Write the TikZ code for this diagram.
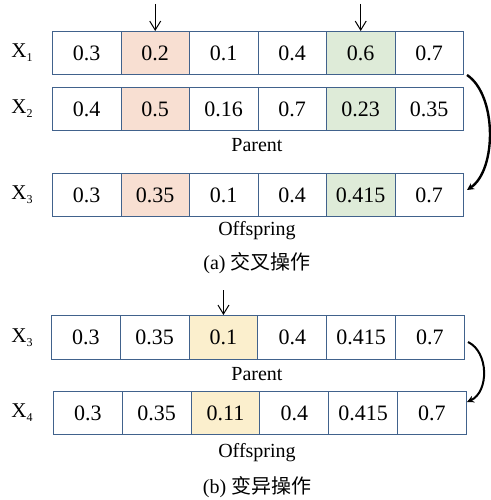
\documentclass[tikz,border=0pt]{standalone}
\usepackage{fontspec}
\setmainfont{Liberation Serif}
\newfontfamily\cjk{Noto Sans CJK SC}
\usetikzlibrary{arrows.meta}
\definecolor{bordc}{HTML}{41628C}
\definecolor{pinkc}{HTML}{F8DFD2}
\definecolor{greenc}{HTML}{DEEBD8}
\definecolor{yellowc}{HTML}{FBEFCD}
\newcommand{\xlab}[1]{X\raisebox{-4pt}{\fontsize{12}{12}\selectfont #1}}
\tikzset{
  cell/.style={draw=bordc, line width=0.9pt, minimum width=68.5pt, minimum height=43pt,
    inner sep=0pt, anchor=north west, font=\fontsize{22}{24}\selectfont},
  rowlab/.style={font=\fontsize{21}{24}\selectfont, inner sep=0pt},
  caplab/.style={font=\fontsize{20}{24}\selectfont, inner sep=0pt},
  downarr/.style={-{Straight Barb[length=9pt,width=11pt]}, line width=1pt},
  bendarr/.style={-{Stealth[length=7pt,width=7pt]}, line width=2.4pt}
}
\begin{document}
\begin{tikzpicture}[x=1pt,y=-1pt]
\useasboundingbox (0,0) rectangle (490,500);
% (a)
\foreach \v/\f [count=\i] in {0.3/white,0.2/pinkc,0.1/white,0.4/white,0.6/greenc,0.7/white}
  \node[cell, fill=\f] (a\i) at ({52+(\i-1)*68.5},31) {\v};
\foreach \v/\f [count=\i] in {0.4/white,0.5/pinkc,0.16/white,0.7/white,0.23/greenc,0.35/white}
  \node[cell, fill=\f] (b\i) at ({52+(\i-1)*68.5},87) {\v};
\foreach \v/\f [count=\i] in {0.3/white,0.35/pinkc,0.1/white,0.4/white,0.415/greenc,0.7/white}
  \node[cell, fill=\f] (c\i) at ({52+(\i-1)*68.5},173) {\v};
\node[rowlab] (lx1) at (22,53) {\xlab{1}};
\node[rowlab] (lx2) at (22,109) {\xlab{2}};
\node[rowlab] (lx3) at (22,195) {\xlab{3}};
\node[caplab] (par1) at (257,145) {Parent};
\node[caplab] (off1) at (257,231) {Offspring};
\node[caplab] (capa) at (257,263) {(a) {\cjk 交叉操作}};
\coordinate (t1) at (a2.north |- 0,4);
\coordinate (t2) at (a5.north |- 0,4);
\draw[downarr] (t1) -- (a2.north);
\draw[downarr] (t2) -- (a5.north);
\coordinate (s1) at (467,75);
\coordinate (e1) at (467,190);
\draw[bendarr] (s1) .. controls (497,95) and (497,170) .. (e1);
% (b)
\foreach \v/\f [count=\i] in {0.3/white,0.35/white,0.1/yellowc,0.4/white,0.415/white,0.7/white}
  \node[cell, fill=\f, minimum height=44pt, minimum width=68.8pt] (d\i) at ({51+(\i-1)*68.8},315) {\v};
\foreach \v/\f [count=\i] in {0.3/white,0.35/white,0.11/yellowc,0.4/white,0.415/white,0.7/white}
  \node[cell, fill=\f, minimum width=68.8pt] (e\i) at ({53+(\i-1)*68.8},391) {\v};
\node[rowlab] (lx3b) at (22,338) {\xlab{3}};
\node[rowlab] (lx4) at (22,413) {\xlab{4}};
\node[caplab] (par2) at (257,374) {Parent};
\node[caplab] (off2) at (257,453) {Offspring};
\node[caplab] (capb) at (257,487) {(b) {\cjk 变异操作}};
\coordinate (t3) at (d3.north |- 0,290);
\draw[downarr] (t3) -- (d3.north);
\coordinate (s2) at (468,342);
\coordinate (e2) at (467,402);
\draw[bendarr, line width=2pt] (s2) .. controls (489,352) and (489,392) .. (e2);
\end{tikzpicture}
\end{document}
